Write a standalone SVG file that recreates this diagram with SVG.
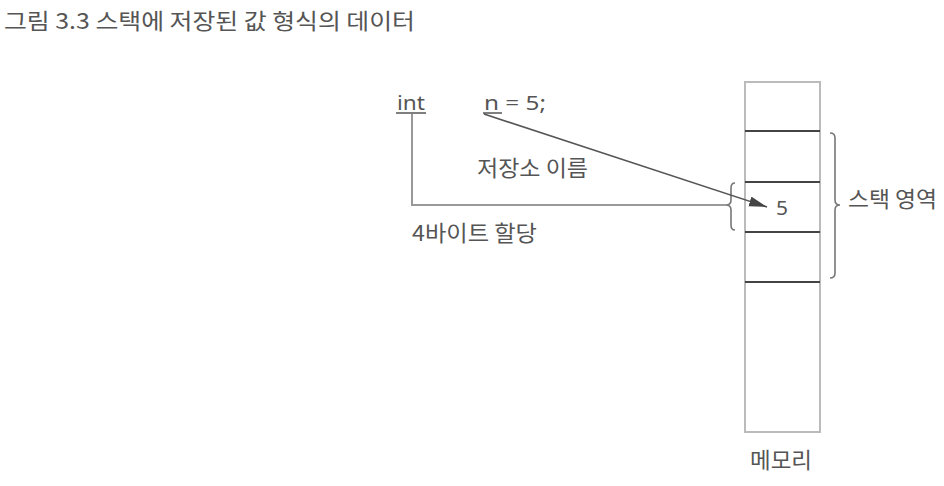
<svg xmlns="http://www.w3.org/2000/svg" width="944" height="486" viewBox="0 0 944 486">
<style>
.t{font-family:"Noto Sans CJK KR","Noto Sans",sans-serif;fill:#555;}
.l{font-family:"Noto Sans","Noto Sans CJK KR",sans-serif;fill:#555;font-size:20px;}
.outer{fill:none;stroke:#bbb;stroke-width:2;}
.inner{stroke:#444;stroke-width:2;}
.brace{fill:none;stroke:#777;stroke-width:1.6;}
.conn{fill:none;stroke:#999;stroke-width:2;}
.arrow{fill:none;stroke:#555;stroke-width:1.6;}
.ul{stroke:#555;stroke-width:1.5;}
</style>
<defs>
<marker id="ah" markerUnits="userSpaceOnUse" markerWidth="19" markerHeight="11" refX="18" refY="5" orient="auto">
<path d="M0,0 L18,5 L0,10 z" fill="#444"/>
</marker>
</defs>
<rect width="944" height="486" fill="#fff"/>
<text id="title" class="t" x="4" y="29" font-size="22" textLength="411" lengthAdjust="spacingAndGlyphs">그림 3.3 스택에 저장된 값 형식의 데이터</text>

<g id="memory">
<rect class="outer" x="745" y="82" width="75" height="350"/>
<line class="inner" x1="745" y1="131" x2="820" y2="131"/>
<line class="inner" x1="745" y1="182" x2="820" y2="182"/>
<line class="inner" x1="745" y1="232" x2="820" y2="232"/>
<line class="inner" x1="745" y1="282" x2="820" y2="282"/>
<text class="t" x="750" y="468" font-size="22" textLength="62" lengthAdjust="spacingAndGlyphs">메모리</text>
</g>

<g id="value">
<text class="l" x="776" y="215" font-size="23" textLength="12" lengthAdjust="spacingAndGlyphs">5</text>
</g>

<g id="stack-area">
<path class="brace" d="M830,133 Q835,133 835,138 L835,200 Q835,205 840,205 Q835,205 835,210 L835,273 Q835,278 830,278"/>
<text class="t" x="848" y="207" font-size="22" textLength="89" lengthAdjust="spacingAndGlyphs">스택 영역</text>
</g>

<g id="slot-brace">
<path class="brace" d="M735,183 Q731,183 731,188 L731,200 Q731,205 726,205 Q731,205 731,210 L731,225 Q731,230 735,230"/>
</g>

<g id="decl">
<text class="l" x="397" y="110" font-size="21" textLength="28" lengthAdjust="spacingAndGlyphs">int</text>
<line class="ul" x1="396" y1="113" x2="426" y2="113"/>
<text class="l" x="484" y="110" font-size="21" textLength="62" lengthAdjust="spacingAndGlyphs">n = 5;</text>
<line class="ul" x1="483" y1="113" x2="502" y2="113"/>
</g>

<g id="labels">
<text class="t" x="477" y="176" font-size="22" textLength="111" lengthAdjust="spacingAndGlyphs">저장소 이름</text>
<text class="t" x="412" y="241" font-size="22" textLength="125" lengthAdjust="spacingAndGlyphs">4바이트 할당</text>
</g>

<g id="connectors">
<path class="conn" d="M412,114 L412,205 L726,205"/>
<line class="arrow" x1="484" y1="114" x2="767" y2="207" marker-end="url(#ah)"/>
</g>
</svg>
